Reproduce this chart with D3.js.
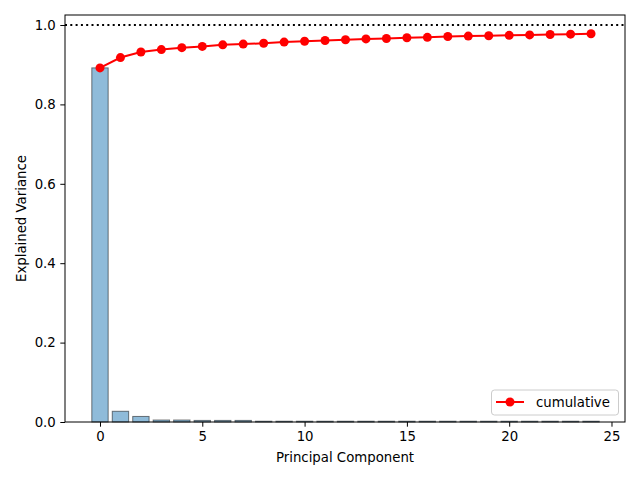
<!DOCTYPE html>
<html>
<head>
<meta charset="UTF-8">
<title>Explained variance</title>
<script src="https://d3js.org/d3.v7.min.js"></script>
<style>
body { margin: 0; background: #fff; }
text { font-family: "DejaVu Sans", sans-serif; }
</style>
</head>
<body>
<script>

/* data */
var components = d3.range(25)	// 0..24
var explained = [0.892, 0.027, 0.014, 0.005, 0.005, 0.004, 0.004, 0.004, 0.002, 0.002,
	0.002, 0.002, 0.002, 0.002, 0.002, 0.002, 0.002, 0.002, 0.002, 0.002,
	0.002, 0.002, 0.002, 0.002, 0.002]
var cumulative = [0.892, 0.918, 0.932, 0.938, 0.943, 0.946, 0.950, 0.952, 0.954, 0.957,
	0.959, 0.961, 0.963, 0.965, 0.966, 0.968, 0.969, 0.971, 0.972, 0.973,
	0.974, 0.975, 0.976, 0.977, 0.978]
var xTicks = [0, 5, 10, 15, 20, 25]
var yTicks = [0.0, 0.2, 0.4, 0.6, 0.8, 1.0]

/* layout (plot box edges in px) */
var W = 640, H = 480
var pLeft = 65, pRight = 625, pTop = 15, pBottom = 422

var svg = d3.select('body').append('svg')
	.attr('width', W)
	.attr('height', H)

var x = d3.scaleLinear().domain([-1.71, 25.66]).range([pLeft, pRight])
var y = d3.scaleLinear().domain([0, 1.0252]).range([pBottom, pTop])

/* bars */
var bw = x(0.8) - x(0)
svg.append('g').selectAll('rect')
	.data(explained)
	.enter()
	.append('rect')
	.attr('x', function(d, i) { return x(components[i]) - bw / 2 })
	.attr('y', function(d) { return y(d) })
	.attr('width', bw)
	.attr('height', function(d) { return y(0) - y(d) })
	.style('fill', '#1f77b4')
	.style('fill-opacity', 0.5)
	.style('stroke', '#000')
	.style('stroke-opacity', 0.5)
	.style('stroke-width', 1)

/* dotted reference line at 1.0 */
svg.append('line')
	.attr('x1', pLeft).attr('x2', pRight)
	.attr('y1', y(1)).attr('y2', y(1))
	.style('stroke', '#000')
	.style('stroke-width', 2)
	.style('stroke-dasharray', '2,3.3')

/* cumulative line */
var line = d3.line()
	.x(function(d, i) { return x(components[i]) })
	.y(function(d) { return y(d) })
svg.append('path')
	.datum(cumulative)
	.attr('d', line)
	.style('fill', 'none')
	.style('stroke', 'red')
	.style('stroke-width', 2)
svg.append('g').selectAll('circle')
	.data(cumulative)
	.enter()
	.append('circle')
	.attr('cx', function(d, i) { return x(components[i]) })
	.attr('cy', function(d) { return y(d) })
	.attr('r', 4.5)
	.style('fill', 'red')

/* axes */
var xAxis = d3.axisBottom(x).tickValues(xTicks).tickSize(4.7).tickPadding(4.5)
	.tickFormat(d3.format('d'))
var yAxis = d3.axisLeft(y).tickValues(yTicks).tickSize(4.7).tickPadding(4.5)
	.tickFormat(d3.format('.1f'))
var gx = svg.append('g').attr('transform', 'translate(0,' + pBottom + ')').call(xAxis)
var gy = svg.append('g').attr('transform', 'translate(' + pLeft + ',0)').call(yAxis)
gx.select('.domain').remove()
gy.select('.domain').remove()
svg.selectAll('.tick text').style('font-size', '13.3px').style('font-family', '"DejaVu Sans", sans-serif').style('fill', '#000')
svg.selectAll('.tick line').style('stroke', '#000').style('stroke-width', 1)

/* frame */
svg.append('rect')
	.attr('x', pLeft).attr('y', pTop)
	.attr('width', pRight - pLeft).attr('height', pBottom - pTop)
	.style('fill', 'none')
	.style('stroke', '#000')
	.style('stroke-width', 1)

/* axis labels */
svg.append('text')
	.attr('x', (pLeft + pRight) / 2)
	.attr('y', 462)
	.attr('text-anchor', 'middle')
	.style('font-size', '13.3px')
	.text('Principal Component')
svg.append('text')
	.attr('transform', 'translate(26,' + (pTop + pBottom) / 2 + ') rotate(-90)')
	.attr('text-anchor', 'middle')
	.style('font-size', '13.3px')
	.text('Explained Variance')

/* legend */
var lg = svg.append('g')
lg.append('rect')
	.attr('x', 491.5).attr('y', 390)
	.attr('width', 127).attr('height', 25)
	.attr('rx', 3)
	.style('fill', '#fff')
	.style('fill-opacity', 0.8)
	.style('stroke', '#ccc')
lg.append('line')
	.attr('x1', 496).attr('x2', 524)
	.attr('y1', 402).attr('y2', 402)
	.style('stroke', 'red')
	.style('stroke-width', 2)
lg.append('circle')
	.attr('cx', 510).attr('cy', 402).attr('r', 4.5)
	.style('fill', 'red')
lg.append('text')
	.attr('x', 536).attr('y', 406.5)
	.style('font-size', '13.3px')
	.text('cumulative')

</script>
</body>
</html>
